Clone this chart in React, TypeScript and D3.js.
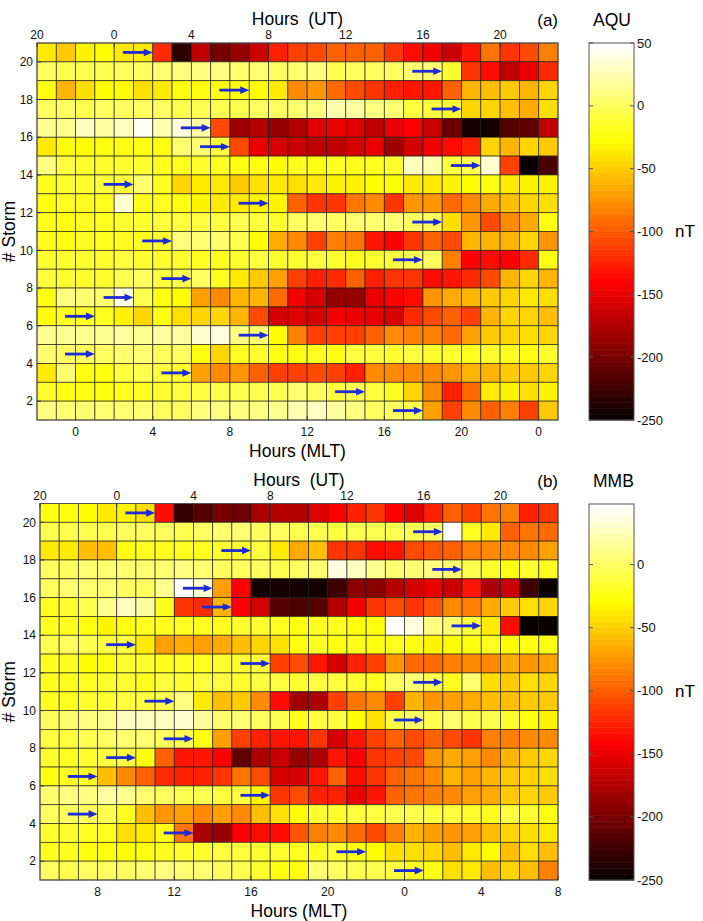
import * as d3 from "d3";

// storms are numbered 1..20, drawn bottom to top
const yTickValues = [2, 4, 6, 8, 10, 12, 14, 16, 18, 20];
const utTickLabels = [20, 0, 4, 8, 12, 16, 20];
const aquCbTicks = [50, 0, -50, -100, -150, -200, -250];
const mmbCbTicks = [0, -50, -100, -150, -200, -250];

// onset hour (UT) of storms 1..20 (blue arrows)
const onsetUT = [16, 13, 4, 23, 8, 23, 1, 4, 16, 3, 17, 8, 1, 19, 6, 5, 18, 7, 17, 2];

// nT per hourly bin; rows: storm 20 (top) down to storm 1, columns: 27 bins starting 20 UT
const aquValues = [
  [-35, -50, -30, -28, -35, -35, -120, -232, -170, -200, -188, -165, -128, -112, -105, -100, -100, -100, -115, -135, -145, -162, -130, -90, -115, -105, -85],
  [0, -5, -5, -5, 0, 0, 5, 8, 10, 10, 5, 5, 3, 5, 10, -5, 0, 0, 0, 5, 5, -15, -115, -135, -170, -150, -120],
  [-25, -62, -40, -28, -28, -40, -35, -25, -25, -25, -25, -28, -38, -80, -75, -92, -105, -115, -125, -130, -130, -98, -58, -55, -52, -60, -48],
  [0, 0, -5, 0, 0, 0, 0, -5, -5, -5, -5, 0, 0, 5, 10, 25, 20, 10, 5, -10, -10, -15, -48, -45, -55, -65, -40],
  [15, 15, 30, 20, 30, 45, 25, 40, 20, -105, -180, -175, -188, -175, -152, -150, -155, -170, -148, -140, -165, -205, -245, -245, -215, -210, -170],
  [-38, -28, -28, -25, -25, -22, -25, 5, 5, -10, -108, -148, -158, -165, -170, -168, -160, -150, -183, -160, -145, -135, -125, -48, -60, -45, -52],
  [10, -10, -15, -15, -15, -15, -20, -20, -15, -20, -25, -25, -28, -20, -22, -20, -20, -20, -15, 30, 25, -10, -5, 35, -112, -248, -220],
  [-20, -15, -15, -10, -10, 5, -20, -45, -38, -38, -52, -40, -38, -40, -38, -30, -30, -28, -28, -35, -35, -30, -28, -25, -35, -30, -30],
  [-22, -20, -20, -20, 35, -18, -20, -25, -30, -35, -35, -30, -30, -100, -118, -115, -90, -80, -115, -75, -75, -95, -80, -65, -55, -45, -40],
  [-20, -25, -20, -20, -15, -15, -10, -10, -10, -10, -5, -10, -15, 0, 5, 0, 5, 5, 5, 0, 0, -40, -75, -105, -80, -65, -25],
  [-20, -22, -20, -20, -18, -18, -15, 10, 5, 5, -5, -28, -65, -80, -110, -85, -90, -130, -138, -115, -100, -105, -62, -58, -60, -45, -75],
  [-15, -15, -15, -15, -10, -15, -15, -15, -20, -20, -15, -10, -15, -15, -10, -15, -20, -15, -10, -5, 0, -82, -140, -135, -138, -120, -25],
  [-10, -15, -15, -15, -5, 0, -10, -5, 0, -20, -38, -52, -70, -110, -125, -120, -100, -128, -115, -115, -135, -130, -120, -105, -60, -48, -58],
  [-25, 10, 5, 5, 40, -5, -25, -28, -70, -80, -62, -60, -95, -145, -158, -188, -188, -150, -138, -135, -75, -65, -62, -50, -45, -35, -40],
  [-28, -20, -20, -20, -30, -45, -25, -40, -48, -45, -58, -105, -158, -152, -158, -145, -148, -150, -158, -120, -105, -100, -110, -60, -45, -48, -55],
  [15, 15, 15, 15, 20, 15, 20, 20, 35, 40, 10, 5, -28, -85, -110, -112, -110, -100, -80, -82, -85, -92, -70, -50, -48, -40, -45],
  [5, 0, 0, 0, 5, 5, 0, 0, -25, -45, -20, -15, -25, -25, -20, -25, -10, -10, -15, -10, -15, -15, -20, -15, -20, -25, -15],
  [-38, 5, -25, -22, -10, -5, -10, -15, -68, -80, -75, -100, -110, -110, -105, -112, -125, -80, -78, -80, -80, -75, -62, -60, -50, -52, -45],
  [-15, -25, -25, -25, -20, -20, -15, -10, -10, -5, -5, -5, -5, 5, 0, -10, -5, -10, -20, -45, -80, -125, -95, -35, -30, -40, -30],
  [10, 5, 5, 5, 5, 5, 0, 0, 10, 10, 10, 10, 15, 25, 30, 20, 10, 0, 0, -5, -70, -110, -80, -100, -85, -110, -50],
];

const mmbValues = [
  [-25, -25, -28, -38, -35, -45, -135, -230, -215, -200, -205, -180, -172, -175, -155, -140, -128, -118, -142, -155, -128, -100, -112, -90, -85, -125, -118],
  [-5, -5, -5, -5, 0, 0, 0, -5, 0, 5, 5, 0, 0, -5, -5, -10, -5, -5, -5, -5, 0, 45, -20, -38, -98, -90, -95],
  [-38, -40, -55, -55, -25, -20, -20, -20, -20, -15, -15, -10, -38, -65, -58, -118, -115, -138, -132, -108, -105, -100, -85, -80, -78, -78, -72],
  [0, 0, 5, 5, 5, 5, 5, 10, 5, 0, 0, 0, -5, 0, 5, 35, 25, 15, 5, 5, 10, 5, -5, -15, -25, -15, -20],
  [0, 5, 5, 5, 0, 0, 15, 45, 30, -70, -142, -242, -242, -245, -245, -225, -190, -193, -172, -160, -150, -165, -132, -180, -165, -225, -248],
  [-20, -15, -5, 15, 25, 20, -20, -118, -122, -60, -140, -158, -215, -222, -215, -175, -145, -118, -108, -115, -105, -80, -85, -65, -50, -45, -48],
  [-20, -20, -25, -35, -25, -20, -20, -20, -20, -20, -15, -15, -20, -25, -20, -20, -25, -25, 45, 35, 10, 5, -10, -40, -135, -248, -248],
  [-5, 0, -5, -10, -10, -40, -70, -68, -70, -65, -55, -48, -45, -25, -20, -22, -20, -22, -20, -25, -35, -30, -25, -20, -28, -25, -22],
  [-20, -20, -30, -25, -15, -15, -20, -20, -20, -15, -15, -10, -112, -108, -130, -160, -128, -112, -75, -95, -95, -85, -80, -80, -68, -75, -70],
  [-20, -20, -20, -15, -15, -20, -10, -15, -10, -10, -15, -10, -10, -15, -10, -10, -15, -20, 0, 5, -5, -20, 5, -45, -50, -45, -48],
  [-20, -20, -15, -15, -10, -10, -5, 10, -40, -58, -50, -80, -135, -182, -178, -112, -90, -80, -112, -62, -75, -72, -65, -55, -58, -50, -50],
  [0, 5, 10, 15, 25, 25, 25, 30, 20, 5, 5, 0, -5, -20, -10, -10, -28, -42, -10, 0, -5, 5, -5, -5, -15, -25, -35],
  [-10, -10, -5, 0, 5, 5, 0, -5, -25, -70, -112, -128, -130, -130, -118, -158, -132, -112, -100, -110, -100, -110, -115, -85, -85, -82, -80],
  [-15, -20, -15, -10, -10, -25, -98, -132, -130, -140, -210, -180, -165, -185, -180, -132, -140, -118, -112, -110, -75, -65, -70, -78, -62, -50, -48],
  [-25, -20, -20, -55, -80, -100, -122, -128, -128, -115, -90, -110, -160, -160, -132, -100, -135, -115, -100, -88, -78, -62, -72, -60, -50, -48, -45],
  [5, 10, 10, 20, 15, 5, 0, -5, -5, -10, -10, -35, -115, -108, -125, -128, -148, -130, -100, -88, -85, -80, -72, -65, -50, -48, -50],
  [0, 0, 0, -5, -20, -55, -75, -70, -78, -72, -82, -55, -45, -30, -15, -15, -10, -10, -5, -5, -10, -10, -15, -20, -10, -15, -25],
  [-15, -15, -20, -20, -45, -40, -25, -90, -180, -185, -140, -138, -135, -105, -85, -80, -95, -110, -85, -62, -72, -75, -72, -55, -48, -45, -40],
  [-20, -20, -25, -25, -28, -22, -20, -15, -15, -10, -10, -15, -15, -20, -20, -15, -25, -30, -45, -45, -48, -55, -40, -30, -55, -45, -55],
  [0, -5, 0, 0, 0, 5, 10, 5, 5, 0, -5, -15, -25, -25, 5, 0, -5, -5, -10, -20, -25, -45, -40, -55, -48, -58, -85],
];

const FONT = "'Liberation Sans', Arial, Helvetica, sans-serif";
const ARROW = "#1d2ad6";

// MATLAB "hot" colormap, 64 levels
const hot = (t: number) => {
  const k = Math.min(63, Math.max(0, Math.floor(t * 64)));
  const s = (k + 1) / 64;
  const r = Math.min(1, s / 0.375);
  const g = Math.min(1, Math.max(0, (s - 0.375) / 0.375));
  const b = Math.min(1, Math.max(0, (s - 0.75) / 0.25));
  return d3.rgb(r * 255, g * 255, b * 255).formatHex();
};

type Props = {
  values: number[][];
  station: string;
  tag: string;
  left: number;
  right: number;
  top: number;
  bottom: number;
  cbTop: number;
  cbMax: number;
  cbTicks: number[];
  mltShift: number; // MLT = UT + shift
  mltFirst: number;
};

const Panel = ({ values, station, tag, left, right, top, bottom, cbTop, cbMax, cbTicks, mltShift, mltFirst }: Props) => {
  const x = d3.scaleLinear().domain([20, 47]).range([left, right]);
  const y = d3.scaleLinear().domain([1, 21]).range([bottom, top]);
  const color = (v: number) => hot((v + 250) / (cbMax + 250));
  const cb = d3.scaleLinear().domain([-250, cbMax]).range([bottom, cbTop]);
  const cbLeft = 589;
  const cbRight = 634;
  const midX = (left + right) / 2;
  const mltTicks = d3.range(7).map((i) => mltFirst + 4 * i);
  const levels = d3.range(64);

  return (
    <g fontFamily={FONT}>
      {/* cells */}
      {values.map((row, r) => {
        const storm = 20 - r;
        return row.map((v, c) => (
          <rect
            key={`${r}-${c}`}
            x={x(20 + c)}
            y={y(storm + 1)}
            width={x(21 + c) - x(20 + c)}
            height={y(storm) - y(storm + 1)}
            fill={color(v)}
            stroke="#1a1a1a"
            strokeOpacity={0.8}
            strokeWidth={0.8}
          />
        ));
      })}
      <rect x={left} y={top} width={right - left} height={bottom - top} fill="none" stroke="#555" strokeWidth={1} />

      {/* onset arrows */}
      {onsetUT.map((h, i) => {
        const storm = i + 1;
        const ax = h < 20 ? h + 24 : h;
        const tip = x(ax);
        const tail = x(ax - 1.55);
        const cy = y(storm + 0.5);
        return (
          <g key={storm}>
            <line x1={tail} x2={tip - 6} y1={cy} y2={cy} stroke={ARROW} strokeWidth={2.8} />
            <path d={`M${tip},${cy} L${tip - 9},${cy - 3.8} L${tip - 9},${cy + 3.8} Z`} fill={ARROW} />
          </g>
        );
      })}

      {/* top UT axis */}
      {utTickLabels.map((lab, i) => (
        <g key={i}>
          <line x1={x(20 + 4 * i)} x2={x(20 + 4 * i)} y1={top} y2={top + 4} stroke="#333" />
          <text x={x(20 + 4 * i)} y={top - 4} fontSize={12} textAnchor="middle" fill="#111">
            {lab}
          </text>
        </g>
      ))}
      <text x={midX} y={top - 18} fontSize={17.5} textAnchor="middle" fill="#000" style={{ whiteSpace: "pre" }}>
        Hours  (UT)
      </text>
      <text x={right} y={top - 17} fontSize={17} textAnchor="end" fill="#000">
        {tag}
      </text>

      {/* bottom MLT axis */}
      {mltTicks.map((m) => {
        const px = x(m - mltShift + 24);
        return (
          <g key={m}>
            <line x1={px} x2={px} y1={bottom} y2={bottom - 4} stroke="#333" />
            <text x={px} y={bottom + 16} fontSize={12} textAnchor="middle" fill="#111">
              {m % 24}
            </text>
          </g>
        );
      })}
      <text x={midX} y={bottom + 37} fontSize={17.5} textAnchor="middle" fill="#000">
        Hours (MLT)
      </text>

      {/* left storm axis */}
      {yTickValues.map((s) => (
        <g key={s}>
          <line x1={left} x2={left + 4} y1={y(s)} y2={y(s)} stroke="#333" />
          <text x={left - 4} y={y(s)} dy="0.35em" fontSize={12} textAnchor="end" fill="#111">
            {s}
          </text>
        </g>
      ))}
      <text
        transform={`translate(15, ${(top + bottom) / 2}) rotate(-90)`}
        fontSize={17.5}
        textAnchor="middle"
        fill="#000"
        style={{ whiteSpace: "pre" }}
      >
        # Storm
      </text>

      {/* colorbar */}
      {levels.map((k) => {
        const v0 = -250 + ((cbMax + 250) * k) / 64;
        const v1 = -250 + ((cbMax + 250) * (k + 1)) / 64;
        return (
          <rect
            key={k}
            x={cbLeft}
            y={cb(v1)}
            width={cbRight - cbLeft}
            height={cb(v0) - cb(v1) + 0.5}
            fill={hot((k + 0.5) / 64)}
          />
        );
      })}
      <rect x={cbLeft} y={cbTop} width={cbRight - cbLeft} height={bottom - cbTop} fill="none" stroke="#555" />
      {cbTicks.map((t) => (
        <g key={t}>
          <line x1={cbLeft} x2={cbLeft + 4} y1={cb(t)} y2={cb(t)} stroke="#555" />
          <line x1={cbRight - 4} x2={cbRight} y1={cb(t)} y2={cb(t)} stroke="#555" />
          <text x={cbRight + 3} y={cb(t)} dy="0.35em" fontSize={13} fill="#111">
            {t}
          </text>
        </g>
      ))}
      <text x={675} y={cb(-100)} dy="0.35em" fontSize={17} fill="#000">
        nT
      </text>
      <text x={593} y={top - 17} fontSize={17.5} fill="#000">
        {station}
      </text>
    </g>
  );
};

const App = () => (
  <svg width={703} height={921} viewBox="0 0 703 921" style={{ position: "absolute", left: 0, top: 0, background: "#fff" }}>
    <rect width={703} height={921} fill="#fff" />
    <Panel
      values={aquValues}
      station="AQU"
      tag="(a)"
      left={37}
      right={558}
      top={43}
      bottom={420}
      cbTop={43}
      cbMax={50}
      cbTicks={aquCbTicks}
      mltShift={2}
      mltFirst={0}
    />
    <Panel
      values={mmbValues}
      station="MMB"
      tag="(b)"
      left={40}
      right={558}
      top={503.5}
      bottom={880}
      cbTop={504}
      cbMax={48}
      cbTicks={mmbCbTicks}
      mltShift={9}
      mltFirst={8}
    />
  </svg>
);

export default App;
